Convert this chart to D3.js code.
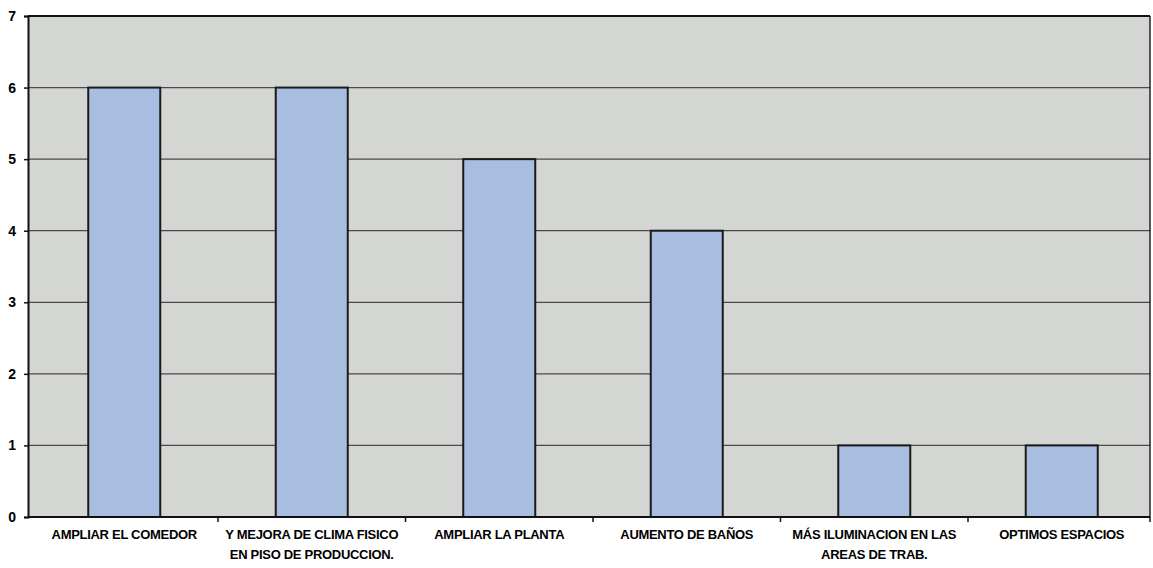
<!DOCTYPE html>
<html>
<head>
<meta charset="utf-8">
<script src="https://cdn.jsdelivr.net/npm/d3@7"></script>
<style>
  body { margin: 0; background: #fff; }
  svg text { font-family: "Liberation Sans", Arial, sans-serif; }
</style>
</head>
<body>
<script>
// data
var categories = [
  ["AMPLIAR EL COMEDOR"],
  ["Y MEJORA DE CLIMA FISICO", "EN PISO DE  PRODUCCION."],
  ["AMPLIAR LA PLANTA"],
  ["AUMENTO DE BAÑOS"],
  ["MÁS ILUMINACION  EN LAS", "AREAS DE TRAB."],
  ["OPTIMOS ESPACIOS"]
];
var values = [6, 6, 5, 4, 1, 1];
var yTicks = [0, 1, 2, 3, 4, 5, 6, 7];

var width = 1153, height = 568,
    margin = {top: 16, right: 3, bottom: 51, left: 28};

var svg = d3.select("body").append("svg")
    .attr("width", width)
    .attr("height", height);

// category band sits a little to the right, like in the scan
var x = d3.scaleBand()
    .domain(d3.range(values.length))
    .range([margin.left + 4, width - margin.right + 4])
    .paddingInner(0.616)
    .paddingOuter(0.3);

var y = d3.scaleLinear()
    .domain([0, 7])
    .range([height - margin.bottom, margin.top]);

// plot area
svg.append("rect")
    .attr("x", margin.left)
    .attr("y", y(7))
    .attr("width", width - margin.right - margin.left)
    .attr("height", y(0) - y(7))
    .attr("fill", "#d4d6d3");

// grid
svg.append("g")
  .selectAll("line")
  .data(yTicks.filter(function(d) { return d > 0; }))
  .enter().append("line")
    .attr("x1", margin.left)
    .attr("x2", width - margin.right)
    .attr("y1", function(d) { return y(d); })
    .attr("y2", function(d) { return y(d); })
    .attr("stroke", function(d) { return d == 7 ? "#111" : "#4a4a4a"; })
    .attr("stroke-width", function(d) { return d == 7 ? 2 : 1.3; });

// right border
svg.append("line")
    .attr("x1", width - margin.right).attr("x2", width - margin.right)
    .attr("y1", y(7)).attr("y2", y(0))
    .attr("stroke", "#222").attr("stroke-width", 1.5);

// bars
svg.append("g")
  .selectAll("rect")
  .data(values)
  .enter().append("rect")
    .attr("x", function(d, i) { return x(i); })
    .attr("y", function(d) { return y(d); })
    .attr("width", x.bandwidth())
    .attr("height", function(d) { return y(0) - y(d); })
    .attr("fill", "#a8bee0")
    .attr("stroke", "#1a1a1a")
    .attr("stroke-width", 2);

// y axis
var yAxis = svg.append("g")
    .attr("transform", "translate(" + margin.left + ",0)")
    .call(d3.axisLeft(y).tickValues(yTicks).tickFormat(d3.format("d")).tickSize(4).tickPadding(8));
yAxis.select(".domain").attr("stroke", "#111").attr("stroke-width", 2);
yAxis.selectAll(".tick line").attr("stroke", "#111").attr("stroke-width", 1.5);
yAxis.selectAll(".tick text")
    .attr("font-size", 14)
    .attr("font-weight", "bold")
    .attr("fill", "#000");

// x axis with ticks between categories
var step = x.step();
var xAxis = svg.append("g")
    .attr("transform", "translate(0," + y(0) + ")");
xAxis.append("line")
    .attr("x1", margin.left).attr("x2", width - margin.right)
    .attr("stroke", "#111").attr("stroke-width", 2);
xAxis.selectAll(".sep")
  .data(d3.range(values.length))
  .enter().append("line")
    .attr("class", "sep")
    .attr("x1", function(d, i) { return Math.min(x(i) + x.bandwidth() + (step - x.bandwidth()) / 2, width - margin.right); })
    .attr("x2", function(d, i) { return Math.min(x(i) + x.bandwidth() + (step - x.bandwidth()) / 2, width - margin.right); })
    .attr("y1", 0).attr("y2", 5)
    .attr("stroke", "#111").attr("stroke-width", 1.5);

var labels = xAxis.selectAll(".lbl")
  .data(categories)
  .enter().append("text")
    .attr("class", "lbl")
    .attr("text-anchor", "middle")
    .attr("font-size", 13)
    .attr("font-weight", "bold")
    .attr("letter-spacing", "-0.3")
    .attr("fill", "#000")
    .attr("transform", function(d, i) { return "translate(" + (x(i) + x.bandwidth() / 2) + ",22)"; });

labels.selectAll("tspan")
  .data(function(d) { return d; })
  .enter().append("tspan")
    .attr("x", 0)
    .attr("dy", function(d, i) { return i ? 20 : 0; })
    .text(function(d) { return d; });
</script>
</body>
</html>
